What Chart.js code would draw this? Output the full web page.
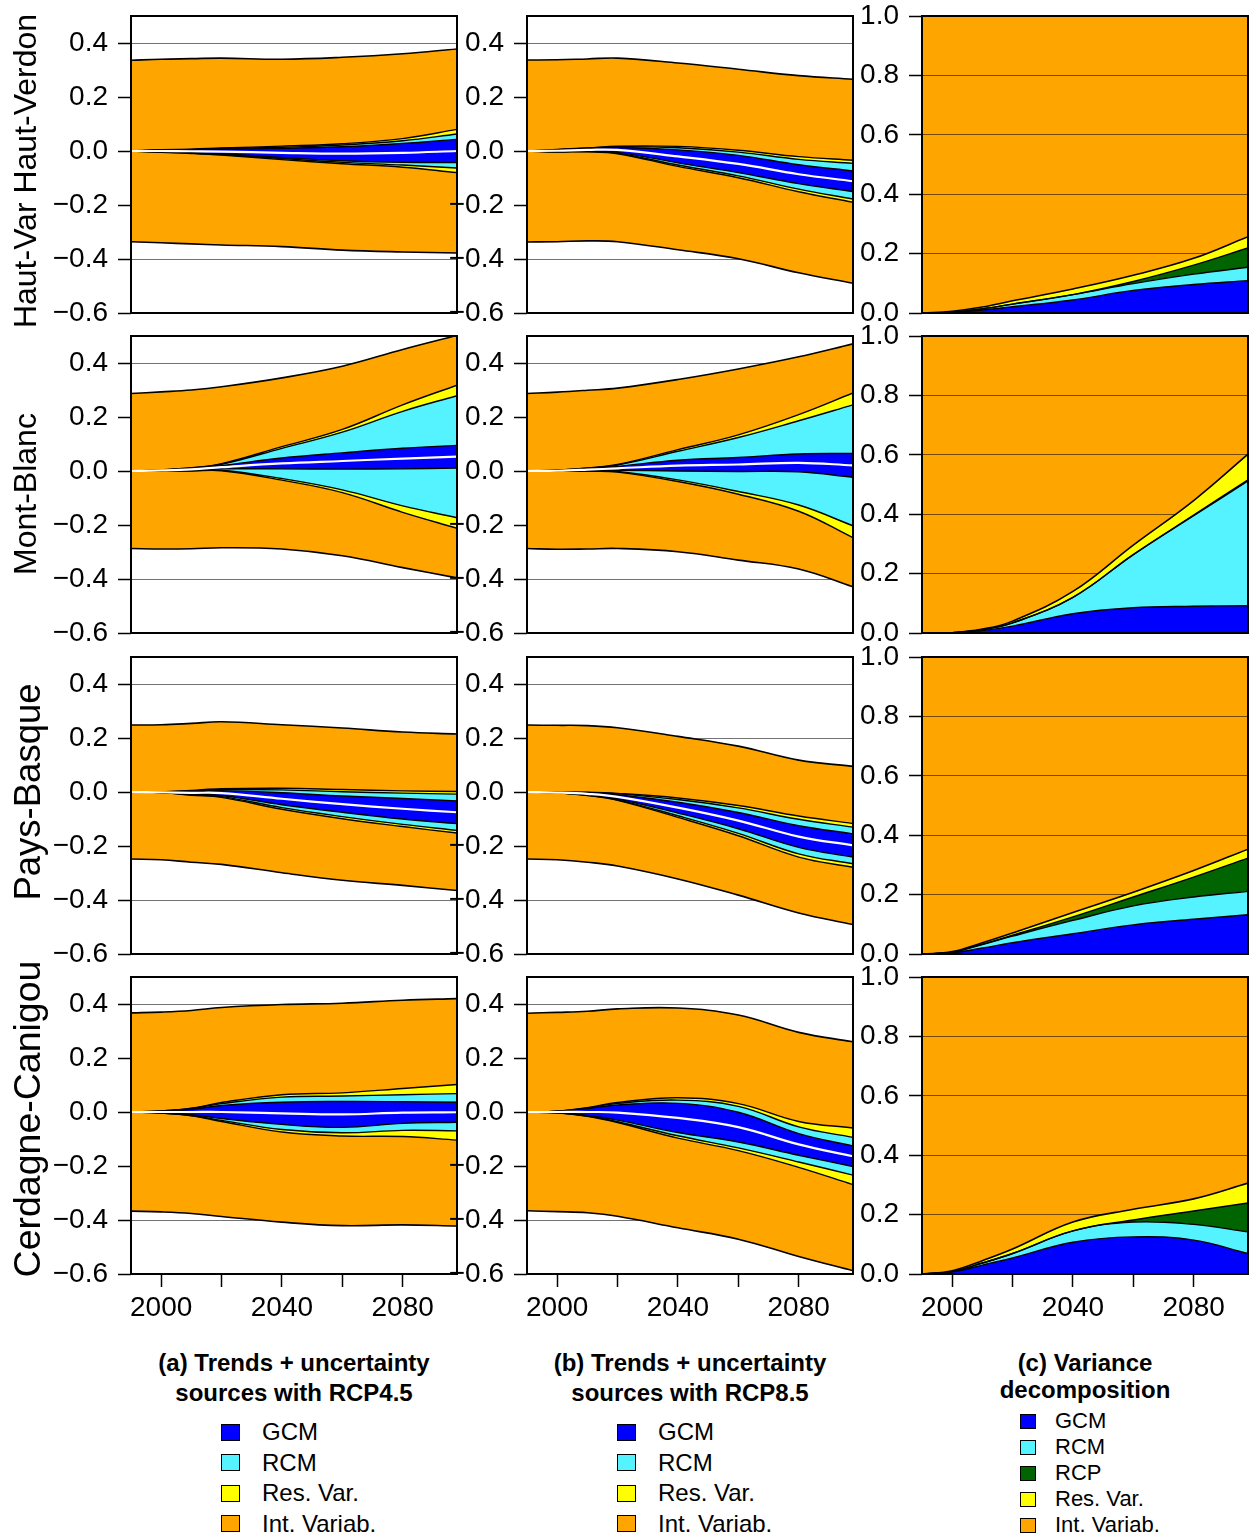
<!DOCTYPE html>
<html>
<head>
<meta charset="utf-8">
<script src="https://cdn.jsdelivr.net/npm/chart.js@4.4.1/dist/chart.umd.min.js"></script>
<style>
body { margin: 0; background: #fff; }
#page { position: relative; width: 1253px; height: 1536px; overflow: hidden; font-family: "Liberation Sans", Arial, sans-serif; color: #000; }
canvas { position: absolute; }
.region { position: absolute; white-space: nowrap; line-height: 1; transform: translate(-50%, -50%) rotate(-90deg); }
.title { position: absolute; width: 420px; font-weight: bold; font-size: 24px; text-align: center; }
.legend { position: absolute; }
.legend div { position: relative; white-space: nowrap; }
.legend span { position: absolute; left: 0; border: 1px solid #000; box-sizing: border-box; }
</style>
</head>
<body>
<div id="page">
  <div class="title" style="left:84px; top:1348px; line-height:30px;">(a) Trends + uncertainty<br>sources with RCP4.5</div>
  <div class="title" style="left:480px; top:1348px; line-height:30px;">(b) Trends + uncertainty<br>sources with RCP8.5</div>
  <div class="title" style="left:875px; top:1349px; line-height:27px;">(c) Variance<br>decomposition</div>
</div>
<script>
const years = [1990, 2000, 2010, 2020, 2040, 2060, 2080, 2098];
const regions = ['Haut-Var Haut-Verdon', 'Mont-Blanc', 'Pays-Basque', 'Cerdagne-Canigou'];

// axes
const yTicksAB = [-0.6, -0.4, -0.2, 0, 0.2, 0.4];
const yTicksC = [0, 0.2, 0.4, 0.6, 0.8, 1];
const xTicks = [2000, 2020, 2040, 2060, 2080];
const xLabels = ['2000', '', '2040', '', '2080'];

// RCP4.5 : tendance moyenne et demi-largeurs par source (une ligne par région)
const mean45 = [
  [0, 0, -0.001, -0.002, -0.007, -0.010, -0.007, 0.000],
  [0, 0.002, 0.006, 0.014, 0.028, 0.037, 0.046, 0.053],
  [0, -0.001, -0.003, -0.004, -0.025, -0.045, -0.062, -0.075],
  [0, 0, 0, 0, -0.005, -0.009, -0.002, -0.001]
];
const gcm45 = [
  [0, 0.003, 0.005, 0.008, 0.017, 0.026, 0.035, 0.043],
  [0, 0.001, 0.003, 0.006, 0.020, 0.030, 0.038, 0.042],
  [0, 0.001, 0.005, 0.009, 0.022, 0.030, 0.038, 0.042],
  [0, 0.003, 0.010, 0.024, 0.041, 0.048, 0.040, 0.037]
];
const rcm45 = [
  [0, 0.001, 0.002, 0.003, 0.004, 0.006, 0.010, 0.020],
  [0, 0.001, 0.002, 0.005, 0.036, 0.077, 0.137, 0.184],
  [0, 0, 0.002, 0.004, 0.011, 0.016, 0.020, 0.025],
  [0, 0.001, 0.003, 0.007, 0.019, 0.020, 0.026, 0.032]
];
const res45 = [
  [0, 0.001, 0.001, 0.002, 0.004, 0.005, 0.008, 0.017],
  [0, 0, 0.001, 0.002, 0.006, 0.010, 0.024, 0.039],
  [0, 0, 0.002, 0.003, 0.006, 0.008, 0.008, 0.010],
  [0, 0, 0.001, 0.004, 0.009, 0.012, 0.023, 0.034]
];
const int45 = [
  [0.336, 0.335, 0.335, 0.333, 0.322, 0.320, 0.314, 0.298],
  [0.287, 0.289, 0.288, 0.285, 0.255, 0.234, 0.205, 0.184],
  [0.248, 0.249, 0.248, 0.248, 0.235, 0.228, 0.218, 0.213],
  [0.367, 0.366, 0.362, 0.352, 0.334, 0.332, 0.327, 0.318]
];

// RCP8.5
const mean85 = [
  [0, 0.001, 0.004, 0.004, -0.020, -0.048, -0.086, -0.112],
  [0, 0.001, 0.005, 0.010, 0.020, 0.024, 0.030, 0.021],
  [0, -0.002, -0.007, -0.018, -0.058, -0.106, -0.165, -0.198],
  [0, 0, 0, -0.002, -0.022, -0.056, -0.120, -0.164]
];
const gcm85 = [
  [0, 0.003, 0.005, 0.009, 0.024, 0.032, 0.035, 0.038],
  [0, 0.001, 0.003, 0.007, 0.020, 0.026, 0.033, 0.044],
  [0, 0.001, 0.004, 0.008, 0.020, 0.030, 0.040, 0.043],
  [0, 0.003, 0.013, 0.028, 0.054, 0.055, 0.040, 0.038]
];
const rcm85 = [
  [0, 0.001, 0.001, 0.003, 0.008, 0.012, 0.020, 0.028],
  [0, 0.001, 0.002, 0.005, 0.033, 0.074, 0.123, 0.180],
  [0, 0, 0.001, 0.003, 0.010, 0.017, 0.024, 0.025],
  [0, 0, 0.002, 0.006, 0.012, 0.022, 0.025, 0.032]
];
const res85 = [
  [0, 0.001, 0.001, 0.002, 0.005, 0.007, 0.010, 0.012],
  [0, 0, 0.001, 0.002, 0.006, 0.010, 0.023, 0.044],
  [0, 0, 0.001, 0.002, 0.006, 0.009, 0.012, 0.013],
  [0, 0, 0.001, 0.003, 0.009, 0.010, 0.020, 0.035]
];
const int85 = [
  [0.337, 0.332, 0.330, 0.326, 0.309, 0.300, 0.300, 0.300],
  [0.287, 0.289, 0.288, 0.283, 0.260, 0.244, 0.214, 0.182],
  [0.248, 0.248, 0.247, 0.243, 0.228, 0.220, 0.207, 0.212],
  [0.366, 0.366, 0.357, 0.347, 0.332, 0.328, 0.330, 0.319]
];

// décomposition de variance (fractions, le reste = Int. Variab.)
const varGcm = [
  [0, 0.002, 0.010, 0.021, 0.044, 0.076, 0.096, 0.109],
  [0, 0.001, 0.008, 0.023, 0.065, 0.085, 0.090, 0.092],
  [0, 0.004, 0.020, 0.038, 0.068, 0.098, 0.117, 0.132],
  [0, 0.007, 0.030, 0.054, 0.107, 0.125, 0.114, 0.069]
];
const varRcm = [
  [0, 0.001, 0.004, 0.009, 0.018, 0.023, 0.035, 0.045],
  [0, 0, 0.003, 0.011, 0.055, 0.179, 0.305, 0.420],
  [0, 0.002, 0.012, 0.022, 0.045, 0.064, 0.075, 0.079],
  [0, 0.001, 0.007, 0.015, 0.038, 0.050, 0.053, 0.073]
];
const varRcp = [
  [0, 0, 0, 0, 0, 0.007, 0.030, 0.065],
  [0, 0, 0, 0, 0, 0, 0.002, 0.004],
  [0, 0, 0.001, 0.003, 0.012, 0.030, 0.067, 0.112],
  [0, 0, 0, 0, 0, 0.007, 0.045, 0.097]
];
const varRes = [
  [0, 0.003, 0.006, 0.011, 0.019, 0.021, 0.023, 0.038],
  [0, 0, 0.002, 0.006, 0.020, 0.032, 0.049, 0.086],
  [0, 0.002, 0.005, 0.008, 0.015, 0.016, 0.022, 0.030],
  [0, 0.003, 0.008, 0.015, 0.030, 0.036, 0.041, 0.067]
];

const BLUE = '#0000FF', CYAN = '#55F2FF', YELLOW = '#FFFF00', ORANGE = '#FFA500', GREEN = '#006400';

// mise en page (pixels)
const rowTop = [16, 336, 657, 977];
const plotH = 297, plotW = 326;
const colLeft = [131, 527, 922];
const axisW = [131, 87, 82];
const padT = 30, padR = 6, padB = 30, xAxisH = 60;
const regionX = [25, 25, 28, 28];
const regionY = [171, 494, 792, 1119];
const regionSize = [32, 32, 36.5, 37.5];

const page = document.getElementById('page');

Chart.defaults.font.family = '"Liberation Sans", Arial, sans-serif';
Chart.defaults.color = '#000';
Chart.defaults.animation = false;

// cadre noir + fond éventuel de la zone de tracé
const framePlugin = {
  id: 'frame',
  beforeDraw(chart, args, opts) {
    if (!opts.bg) return;
    const a = chart.chartArea, ctx = chart.ctx;
    ctx.save();
    ctx.fillStyle = opts.bg;
    ctx.fillRect(a.left, a.top, a.right - a.left, a.bottom - a.top);
    ctx.restore();
  },
  afterDraw(chart) {
    const a = chart.chartArea, ctx = chart.ctx;
    ctx.save();
    ctx.strokeStyle = '#000';
    ctx.lineWidth = 2;
    ctx.strokeRect(a.left, a.top, a.right - a.left, a.bottom - a.top);
    ctx.restore();
  }
};

function fmt(v) {
  return v.toFixed(1).replace('-', '\u2212');
}

function makeCanvas(r, c) {
  var cv = document.createElement('canvas');
  var bottom = r === 3 ? xAxisH : padB;
  var w = axisW[c] + plotW + padR, h = padT + plotH + bottom;
  cv.width = w; cv.height = h;
  cv.style.left = (colLeft[c] - axisW[c]) + 'px';
  cv.style.top = (rowTop[r] - padT) + 'px';
  cv.style.width = w + 'px';
  cv.style.height = h + 'px';
  page.appendChild(cv);
  return cv;
}

function makeScales(r, c, ymin, ymax, yTicks) {
  var bottomRow = r === 3;
  return {
    x: {
      type: 'linear', min: 1990, max: 2098, display: bottomRow, z: 1,
      afterBuildTicks: function(ax) { ax.ticks = xTicks.map(function(v) { return { value: v }; }); },
      afterFit: function(ax) { ax.height = bottomRow ? xAxisH : 0; },
      grid: { drawOnChartArea: false, tickLength: 13, tickColor: '#000', tickWidth: 1.5 },
      border: { display: false },
      ticks: { font: { size: 28 }, padding: 4, maxRotation: 0, autoSkip: false,
               callback: function(v, i) { return xLabels[i]; } }
    },
    y: {
      min: ymin, max: ymax, z: 1,
      afterBuildTicks: function(ax) { ax.ticks = yTicks.map(function(v) { return { value: v }; }); },
      afterFit: function(ax) { ax.width = axisW[c]; },
      grid: { color: 'rgba(0,0,0,0.55)', lineWidth: 1, tickLength: 13, tickColor: '#000', tickWidth: 1.5 },
      border: { display: false },
      ticks: { font: { size: 28 }, padding: 10, callback: fmt }
    }
  };
}

function series(vals, color, width, fill, bg) {
  return {
    data: years.map(function(x, i) { return { x: x, y: vals[i] }; }),
    borderColor: color, borderWidth: width, pointRadius: 0,
    fill: fill, backgroundColor: bg || 'transparent',
    tension: 0.4
  };
}

function basePlugins(bg) {
  return {
    legend: { display: false },
    tooltip: { enabled: false },
    filler: { drawTime: 'beforeDatasetsDraw', propagate: false },
    frame: { bg: bg }
  };
}

// panneaux (a) et (b) : bandes emboîtées autour de la tendance moyenne
function bandChart(r, c, mean, gcm, rcm, res, intv) {
  var u1 = [], l1 = [], u2 = [], l2 = [], u3 = [], l3 = [], u4 = [], l4 = [];
  for (var i = 0; i < years.length; i++) {
    var w1 = gcm[i], w2 = w1 + rcm[i], w3 = w2 + res[i], w4 = w3 + intv[i];
    u1.push(mean[i] + w1); l1.push(mean[i] - w1);
    u2.push(mean[i] + w2); l2.push(mean[i] - w2);
    u3.push(mean[i] + w3); l3.push(mean[i] - w3);
    u4.push(mean[i] + w4); l4.push(mean[i] - w4);
  }
  new Chart(makeCanvas(r, c), {
    type: 'line',
    data: {
      datasets: [
        series(mean, '#FFFFFF', 2.2, false),
        series(u1, '#000', 1.4, '+1', BLUE), series(l1, '#000', 1.4, false),
        series(u2, '#000', 1.4, '+1', CYAN), series(l2, '#000', 1.4, false),
        series(u3, '#000', 1.4, '+1', YELLOW), series(l3, '#000', 1.4, false),
        series(u4, '#000', 1.6, '+1', ORANGE), series(l4, '#000', 1.6, false)
      ]
    },
    options: {
      responsive: false,
      layout: { padding: { top: padT, right: padR, bottom: r === 3 ? 0 : padB, left: 0 } },
      scales: makeScales(r, c, -0.6, 0.5, yTicksAB),
      plugins: basePlugins(null)
    },
    plugins: [framePlugin]
  });
}

// panneau (c) : fractions de variance empilées
function varChart(r) {
  var c1 = [], c2 = [], c3 = [], c4 = [];
  for (var i = 0; i < years.length; i++) {
    c1.push(varGcm[r][i]);
    c2.push(c1[i] + varRcm[r][i]);
    c3.push(c2[i] + varRcp[r][i]);
    c4.push(c3[i] + varRes[r][i]);
  }
  new Chart(makeCanvas(r, 2), {
    type: 'line',
    data: {
      datasets: [
        series(c1, '#000', 1.4, 'origin', BLUE),
        series(c2, '#000', 1.4, '-1', CYAN),
        series(c3, '#000', 1.4, '-1', GREEN),
        series(c4, '#000', 1.6, '-1', YELLOW)
      ]
    },
    options: {
      responsive: false,
      layout: { padding: { top: padT, right: padR, bottom: r === 3 ? 0 : padB, left: 0 } },
      scales: makeScales(r, 2, 0, 1, yTicksC),
      plugins: basePlugins(ORANGE)
    },
    plugins: [framePlugin]
  });
}

for (var r = 0; r < 4; r++) {
  bandChart(r, 0, mean45[r], gcm45[r], rcm45[r], res45[r], int45[r]);
}
for (var r = 0; r < 4; r++) {
  bandChart(r, 1, mean85[r], gcm85[r], rcm85[r], res85[r], int85[r]);
}
for (var r = 0; r < 4; r++) {
  varChart(r);
}

// noms de régions (texte vertical)
regions.forEach(function(name, r) {
  var d = document.createElement('div');
  d.className = 'region';
  d.textContent = name;
  d.style.left = regionX[r] + 'px';
  d.style.top = regionY[r] + 'px';
  d.style.fontSize = regionSize[r] + 'px';
  page.appendChild(d);
});

// légendes
function addLegend(left, top, rowH, box, fontSize, names, colors) {
  var lg = document.createElement('div');
  lg.className = 'legend';
  lg.style.left = left + 'px';
  lg.style.top = top + 'px';
  lg.style.fontSize = fontSize + 'px';
  names.forEach(function(n, i) {
    var row = document.createElement('div');
    row.style.height = rowH + 'px';
    row.style.lineHeight = rowH + 'px';
    row.style.paddingLeft = box.gap + 'px';
    var sq = document.createElement('span');
    sq.style.width = box.w + 'px';
    sq.style.height = box.h + 'px';
    sq.style.top = ((rowH - box.h) / 2) + 'px';
    sq.style.background = colors[i];
    row.appendChild(sq);
    row.appendChild(document.createTextNode(n));
    lg.appendChild(row);
  });
  page.appendChild(lg);
}

var legAB = ['GCM', 'RCM', 'Res. Var.', 'Int. Variab.'];
var colAB = [BLUE, CYAN, YELLOW, ORANGE];
addLegend(221, 1417, 30.5, { w: 19, h: 17, gap: 41 }, 24, legAB, colAB);
addLegend(617, 1417, 30.5, { w: 19, h: 17, gap: 41 }, 24, legAB, colAB);
addLegend(1020, 1408, 26, { w: 16, h: 15, gap: 35 }, 22,
  ['GCM', 'RCM', 'RCP', 'Res. Var.', 'Int. Variab.'], [BLUE, CYAN, GREEN, YELLOW, ORANGE]);
</script>
</body>
</html>
